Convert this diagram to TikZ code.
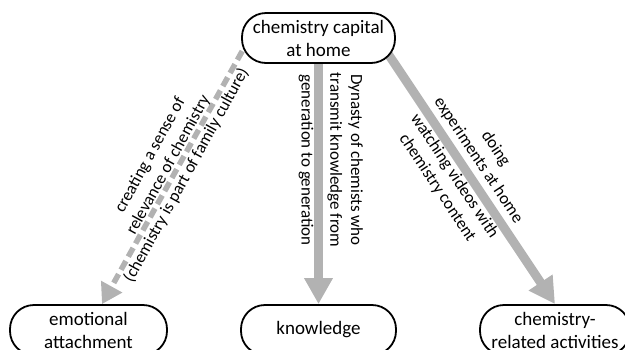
\documentclass[tikz,border=0pt]{standalone}
\usepackage{fontspec}
\setmainfont{Carlito}
\usetikzlibrary{arrows.meta,backgrounds}
\definecolor{arrowgray}{RGB}{178,178,178}
\begin{document}
\begin{tikzpicture}[x=1pt,y=-1pt,
  concept/.style={draw=black, line width=1.8pt, rounded corners=24pt, fill=white,
    minimum height=50pt, inner sep=0pt, align=center, font=\fontsize{19}{23}\selectfont},
  link/.style={draw=arrowgray, line width=9pt, -{Triangle[length=26pt,width=27pt]}},
  dashlink/.style={draw=arrowgray, line width=5.5pt, dash pattern=on 10pt off 5pt,
    -{Triangle[length=20pt,width=23pt]}},
  lbl/.style={align=center, inner sep=0pt, font=\fontsize{17}{20.7}\selectfont}]
\useasboundingbox (0,0) rectangle (625,349);
\clip (0,0) rectangle (625,349);
\node[concept, minimum width=153pt] (top) at (318.5,38) {chemistry capital\\at home};
\node[concept, minimum width=157pt] (emo) at (88.5,330) {emotional\\attachment};
\node[concept, minimum width=155pt] (know) at (318.5,330) {knowledge};
\node[concept, minimum width=150pt] (chem) at (555,330) {chemistry-\\related activities};
\node[lbl, rotate=61.2] (lblA) at (168.5,165.3) {creating a sense of\\relevance of chemistry\\(chemistry is part of family culture)};
\node[lbl, rotate=-90] (lblB) at (330.75,160) {Dynasty of chemists who\\transmit knowledge from\\[8pt]generation to generation};
\node[lbl, rotate=-56.4] (lblC) at (466.4,168.3) {doing\\experiments at home\\[8pt]watching videos with\\chemistry content};
\begin{pgfonlayer}{background}
\draw[dashlink] ([xshift=-69pt]top.center) -- ([xshift=13.5pt]emo.north);
\draw[link] (top.center) -- (know.north);
\draw[link] ([xshift=59pt]top.center) -- (chem.north);
\end{pgfonlayer}
\end{tikzpicture}
\end{document}
